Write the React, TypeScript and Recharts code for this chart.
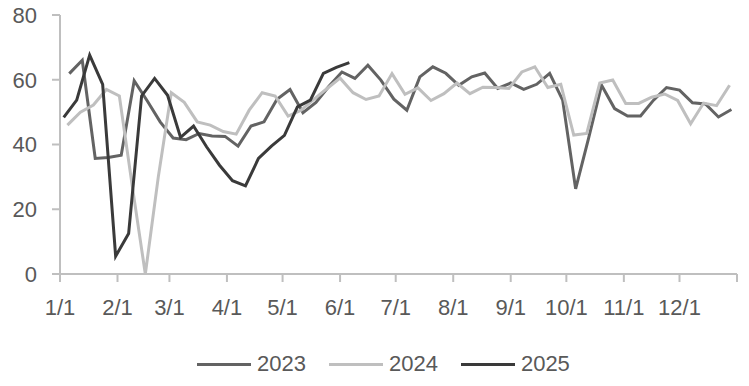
import { LineChart, Line, XAxis, YAxis } from "recharts";

// weekly readings (Fridays), day-of-year of first week per year
const start2023 = 5;
const start2024 = 4;
const start2025 = 2;

const values2023 = [
  61.9, 66, 35.7, 36, 36.7, 59.7, 53.5, 47, 42, 41.5, 43.4, 42.6, 42.5, 39.5,
  45.7, 47, 54, 57, 49.8, 53, 58, 62.4, 60.4, 64.5, 59.9, 54, 50.6, 60.9, 64,
  62, 58.3, 60.9, 62.1, 57.3, 59, 57, 58.6, 62, 53.7, 26.3, 42, 58.3, 51.1,
  48.8, 48.8, 53.7, 57.6, 56.8, 52.9, 52.5, 48.5, 50.8,
];
const values2024 = [
  46, 50, 52.2, 57, 55, 27, 0, 30, 56, 53, 47, 46, 44, 43.2, 50.6, 56, 55,
  48.8, 50.6, 54, 57.3, 60.5, 56, 53.9, 55, 61.9, 55.5, 57.5, 53.6, 55.7, 59,
  55.7, 57.7, 57.6, 57.3, 62.4, 64, 57.6, 58.6, 42.9, 43.4, 59, 59.9, 52.7,
  52.7, 54.6, 55.6, 53.6, 46.4, 52.8, 52, 58.3,
];
const values2025 = [
  48.4, 53.7, 67.6, 58.6, 5.5, 12.5, 55, 60.4, 55.2, 42.2, 45.7, 39.3, 33.6,
  28.8, 27.2, 35.7, 39.5, 42.8, 51.6, 53.7, 62, 63.8, 65.3,
];

const monthTicks = [0, 31, 59, 90, 120, 151, 181, 212, 243, 273, 304, 334, 365];
const monthLabels = ["1/1", "2/1", "3/1", "4/1", "5/1", "6/1", "7/1", "8/1", "9/1", "10/1", "11/1", "12/1", ""];
const yTicks = [0, 20, 40, 60, 80];

const series = [
  { name: "2023", color: "#636363", start: start2023, values: values2023 },
  { name: "2024", color: "#bfbfbf", start: start2024, values: values2024 },
  { name: "2025", color: "#3a3a3a", start: start2025, values: values2025 },
];

const toRows = (startDay: number, vals: number[]) =>
  vals.map((v, i) => ({ day: startDay + 7 * i, value: v }));

const font = "'Liberation Sans', Arial, sans-serif";
const textColor = "#595959";
const axisColor = "#bfbfbf";

export default function App() {
  return (
    <div style={{ position: "absolute", left: 0, top: 0, width: 749, height: 386, background: "#fff" }}>
      <LineChart width={749} height={386} margin={{ top: 15, right: 12, left: 10, bottom: 72 }}>
        <XAxis
          type="number"
          dataKey="day"
          domain={[0, 365]}
          ticks={monthTicks}
          tickFormatter={(d: number) => monthLabels[monthTicks.indexOf(d)] ?? ""}
          allowDataOverflow
          height={40}
          axisLine={{ stroke: axisColor, strokeWidth: 2 }}
          tickLine={{ stroke: axisColor, strokeWidth: 2 }}
          tickSize={8}
          tickMargin={17}
          tick={{ fill: textColor, fontSize: 22, fontFamily: font }}
          interval={0}
        />
        <YAxis
          domain={[0, 80]}
          ticks={yTicks}
          width={50}
          axisLine={{ stroke: axisColor, strokeWidth: 2 }}
          tickLine={{ stroke: axisColor, strokeWidth: 2 }}
          tickSize={8}
          tickMargin={15}
          tick={{ fill: textColor, fontSize: 22, fontFamily: font }}
        />
        {series.map((s) => (
          <Line
            key={s.name}
            data={toRows(s.start, s.values)}
            dataKey="value"
            name={s.name}
            type="linear"
            stroke={s.color}
            strokeWidth={3}
            dot={false}
            isAnimationActive={false}
          />
        ))}
      </LineChart>
      <div
        style={{
          position: "absolute",
          left: 197,
          top: 351,
          display: "flex",
          gap: 23,
          fontFamily: font,
          fontSize: 22,
          color: textColor,
        }}
      >
        {series.map((s) => (
          <div key={s.name} style={{ display: "flex", alignItems: "center", gap: 6 }}>
            <span style={{ display: "inline-block", width: 54, height: 3, background: s.color }} />
            <span>{s.name}</span>
          </div>
        ))}
      </div>
    </div>
  );
}
